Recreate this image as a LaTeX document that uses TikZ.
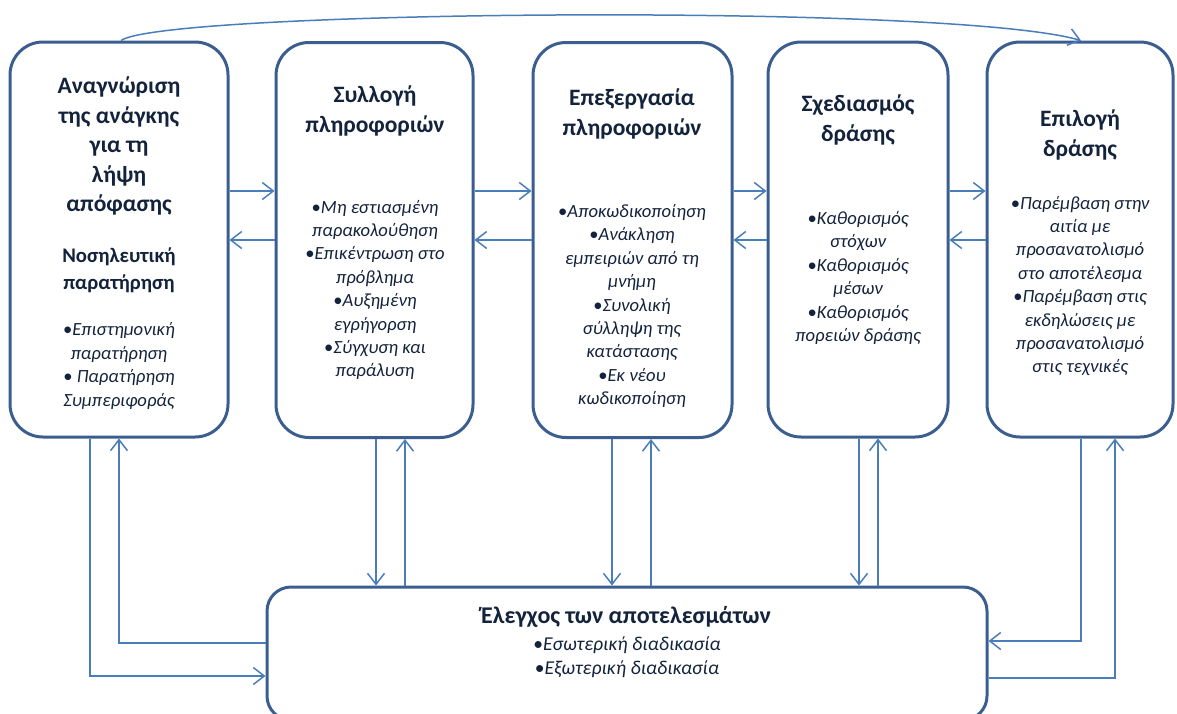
\documentclass[tikz,border=0pt]{standalone}
\usepackage{fontspec}
\setmainfont{Carlito}
\usetikzlibrary{arrows.meta}

\definecolor{boxline}{HTML}{3B5E8F}
\definecolor{connline}{HTML}{4A7EBB}
\definecolor{txt}{HTML}{14233C}

\newcommand{\bul}{\textup{•}}

\tikzset{
  stage/.style={draw=boxline, line width=3pt, rounded corners=33pt, fill=white,
    minimum height=395pt, inner sep=0pt},
  checkbox/.style={draw=boxline, line width=3pt, rounded corners=24pt, fill=white,
    minimum width=720pt, minimum height=133pt, inner sep=0pt},
  conn/.style={draw=connline, line width=1.5pt,
    -{Straight Barb[length=11pt,width=17pt,line width=1.5pt]}},
  ttl/.style={text=txt, align=center, inner sep=0pt,
    font=\fontsize{23.5}{29.5}\selectfont\bfseries},
  sub/.style={text=txt, align=center, inner sep=0pt,
    font=\fontsize{20.7}{26.5}\selectfont\bfseries},
  lst/.style={text=txt, align=center, inner sep=0pt,
    font=\fontsize{18.6}{23.4}\selectfont\itshape},
}

\begin{document}
\begin{tikzpicture}[x=1pt,y=-1pt]
\clip (0,0) rectangle (1177,713);
\fill[white] (0,0) rectangle (1177,713);

% five stages of the decision process
\node[stage, minimum width=218pt] (b1) at (119,239.5) {};
\node[stage, minimum width=197pt] (b2) at (374.5,240) {};
\node[stage, minimum width=199pt] (b3) at (632.5,240) {};
\node[stage, minimum width=180pt] (b4) at (858,239.5) {};
\node[stage, minimum width=186pt] (b5) at (1080,239.5) {};

% evaluation of results
\node[checkbox] (bb) at (627,653.5) {};

% helper coordinates for connector rows and columns
\coordinate (yR) at (0,191);
\coordinate (yL) at (0,240);
\coordinate (y643) at (0,643);
\coordinate (y676) at (0,676);
\coordinate (y641) at (0,641);
\coordinate (y678) at (0,678);
\coordinate (x90) at (90,0);
\coordinate (x119) at (119,0);
\coordinate (x121) at (121,0);
\coordinate (x376) at (376,0);
\coordinate (x405) at (405,0);
\coordinate (x612) at (612,0);
\coordinate (x651) at (651,0);
\coordinate (x859) at (859,0);
\coordinate (x878) at (878,0);
\coordinate (x1081) at (1081,0);
\coordinate (x1115) at (1115,0);
\coordinate (c1) at (165,10);
\coordinate (c2) at (950,3);

% forward and backward links between neighbouring stages
\foreach \a/\b in {b1/b2, b2/b3, b3/b4, b4/b5}{
  \draw[conn] (\a.east |- yR) -- (\b.west |- yR);
  \draw[conn] (\b.west |- yL) -- (\a.east |- yL);
}

% links with the evaluation box
\draw[conn] (b1.south -| x90) |- (bb.west |- y676);
\draw[conn] (bb.west |- y643) -| (b1.south -| x119);
\draw[conn] (b2.south -| x376) -- (bb.north -| x376);
\draw[conn] (bb.north -| x405) -- (b2.south -| x405);
\draw[conn] (b3.south -| x612) -- (bb.north -| x612);
\draw[conn] (bb.north -| x651) -- (b3.south -| x651);
\draw[conn] (b4.south -| x859) -- (bb.north -| x859);
\draw[conn] (bb.north -| x878) -- (b4.south -| x878);
\draw[conn] (b5.south -| x1081) |- (bb.east |- y641);
\draw[conn] (bb.east |- y678) -| (b5.south -| x1115);

% direct jump from the first stage to the choice of action
\draw[conn] (b1.north -| x121) .. controls (c1) and (c2) .. (b5.north -| x1081);

% texts
\node[ttl] (t1) at (119,146) {Αναγνώριση\\της ανάγκης\\για τη\\λήψη\\απόφασης};
\node[sub] (s1) at (119,270) {Νοσηλευτική\\παρατήρηση};
\node[lst] (l1) at (119,366) {\bul Επιστημονική\\παρατήρηση\\\bul{} Παρατήρηση\\Συμπεριφοράς};

\node[ttl] (t2) at (375,111) {Συλλογή\\πληροφοριών};
\node[lst] (l2) at (375,290) {\bul Μη εστιασμένη\\παρακολούθηση\\\bul Επικέντρωση στο\\πρόβλημα\\\bul Αυξημένη\\εγρήγορση\\\bul Σύγχυση και\\παράλυση};

\node[ttl] (t3) at (632,114) {Επεξεργασία\\πληροφοριών};
\node[lst] (l3) at (632,306) {\bul Αποκωδικοποίηση\\\bul Ανάκληση\\εμπειριών από τη\\μνήμη\\\bul Συνολική\\σύλληψη της\\κατάστασης\\\bul Εκ νέου\\κωδικοποίηση};

\node[ttl] (t4) at (858,120) {Σχεδιασμός\\δράσης};
\node[lst] (l4) at (858,278) {\bul Καθορισμός\\στόχων\\\bul Καθορισμός\\μέσων\\\bul Καθορισμός\\πορειών δράσης};

\node[ttl] (t5) at (1080,135) {Επιλογή\\δράσης};
\node[lst] (l5) at (1080,286) {\bul Παρέμβαση στην\\αιτία με\\προσανατολισμό\\στο αποτέλεσμα\\\bul Παρέμβαση στις\\εκδηλώσεις με\\προσανατολισμό\\στις τεχνικές};

\node[ttl, font=\fontsize{24}{29}\selectfont\bfseries] (t6) at (626,617) {Έλεγχος των αποτελεσμάτων};
\node[lst, font=\fontsize{19.6}{24}\selectfont\itshape] (l6) at (627,657) {\bul Εσωτερική διαδικασία\\\bul Εξωτερική διαδικασία};
\end{tikzpicture}
\end{document}
